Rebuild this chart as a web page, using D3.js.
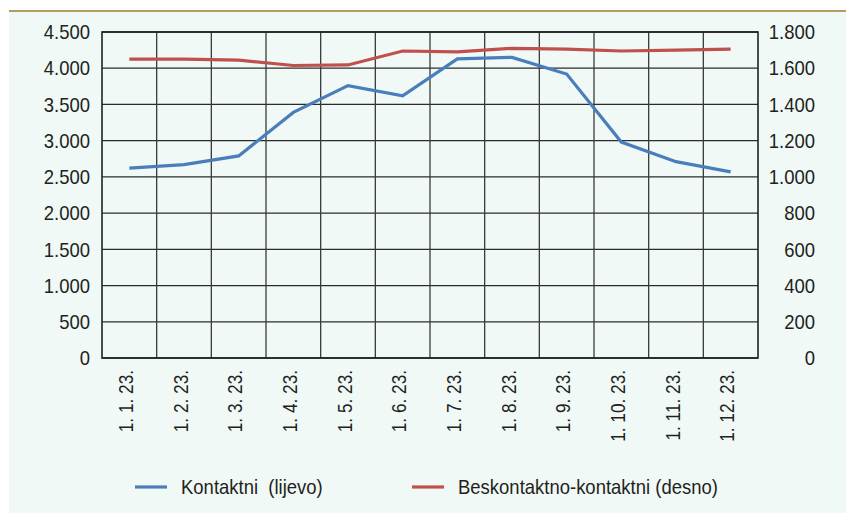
<!DOCTYPE html>
<html>
<head>
<meta charset="utf-8">
<script src="https://cdn.jsdelivr.net/npm/d3@7"></script>
<style>
  body { margin: 0; background: #fff; }
  svg { display: block; }
  text { font-family: "Liberation Sans Narrow", "Liberation Sans", Arial, sans-serif; fill: #231f20; }
</style>
</head>
<body>
<script>
// data
var months = ["1. 1. 23.", "1. 2. 23.", "1. 3. 23.", "1. 4. 23.", "1. 5. 23.", "1. 6. 23.",
              "1. 7. 23.", "1. 8. 23.", "1. 9. 23.", "1. 10. 23.", "1. 11. 23.", "1. 12. 23."];
var kontaktni = [2620, 2670, 2790, 3390, 3760, 3620, 4130, 4150, 3920, 2980, 2710, 2570];
var beskontaktno = [1650, 1650, 1645, 1615, 1618, 1695, 1690, 1710, 1705, 1695, 1700, 1705];
var leftTicks = [0, 500, 1000, 1500, 2000, 2500, 3000, 3500, 4000, 4500];
var rightTicks = [0, 200, 400, 600, 800, 1000, 1200, 1400, 1600, 1800];

var width = 846, height = 513;
var margin = {left: 102, right: 88, top: 32, bottom: 155};

var svg = d3.select("body").append("svg")
    .attr("width", width)
    .attr("height", height);

// background + top rule
svg.append("rect")
    .attr("x", 9).attr("y", 12)
    .attr("width", width - 9).attr("height", height - 12)
    .attr("fill", "#f0f9f6");
svg.append("line")
    .attr("x1", 9).attr("x2", width)
    .attr("y1", 11).attr("y2", 11)
    .attr("stroke", "#b89b63").attr("stroke-width", 2);

var x = d3.scaleBand()
    .domain(months)
    .range([margin.left, width - margin.right]);

var yL = d3.scaleLinear().domain([0, 4500]).range([height - margin.bottom, margin.top]);
var yR = d3.scaleLinear().domain([0, 1800]).range([height - margin.bottom, margin.top]);

var fmt = function(d) { return d3.format(",")(d).replace(/,/g, "."); };

// grid
svg.append("g")
  .selectAll("line")
  .data(leftTicks)
  .enter().append("line")
    .attr("x1", margin.left).attr("x2", width - margin.right)
    .attr("y1", function(d) { return yL(d); })
    .attr("y2", function(d) { return yL(d); })
    .attr("stroke", "#2b2b2b").attr("stroke-width", 1.3);

svg.append("g")
  .selectAll("line")
  .data(months.slice(1))
  .enter().append("line")
    .attr("x1", function(d) { return x(d); })
    .attr("x2", function(d) { return x(d); })
    .attr("y1", margin.top).attr("y2", height - margin.bottom)
    .attr("stroke", "#3a3a3a").attr("stroke-width", 1.3);

svg.append("rect")
    .attr("x", margin.left).attr("y", margin.top)
    .attr("width", width - margin.left - margin.right)
    .attr("height", height - margin.top - margin.bottom)
    .attr("fill", "none").attr("stroke", "#222").attr("stroke-width", 1.6);

// axes
var axL = svg.append("g")
    .attr("transform", "translate(" + margin.left + ",0)")
    .call(d3.axisLeft(yL).tickValues(leftTicks).tickFormat(fmt).tickSize(0).tickPadding(12));
var axR = svg.append("g")
    .attr("transform", "translate(" + (width - margin.right) + ",0)")
    .call(d3.axisRight(yR).tickValues(rightTicks).tickFormat(fmt).tickSize(0).tickPadding(57));
axR.selectAll("text").attr("text-anchor", "end");
var axB = svg.append("g")
    .attr("transform", "translate(0," + (height - margin.bottom) + ")")
    .call(d3.axisBottom(x).tickSize(0).tickPadding(0));
axB.selectAll("text")
    .attr("transform", "rotate(-90)")
    .attr("text-anchor", "end")
    .attr("x", -12).attr("y", 0).attr("dy", "3.5px");

[axL, axR, axB].forEach(function(a) {
  a.select(".domain").remove();
  a.selectAll("text").style("font-size", "21px").attr("fill", "#231f20");
});

// lines
var line = function(scale) {
  return d3.line()
    .x(function(d, i) { return x(months[i]) + x.bandwidth() / 2; })
    .y(function(d) { return scale(d); });
};

svg.append("path")
    .datum(beskontaktno)
    .attr("d", line(yR))
    .attr("fill", "none").attr("stroke", "#c0504d").attr("stroke-width", 3.2);

svg.append("path")
    .datum(kontaktni)
    .attr("d", line(yL))
    .attr("fill", "none").attr("stroke", "#4a7ebb").attr("stroke-width", 3.2);

// legend
var legend = [
  {label: "Kontaktni  (lijevo)", color: "#4a7ebb", x: 135},
  {label: "Beskontaktno-kontaktni (desno)", color: "#c0504d", x: 412}
];
var lg = svg.selectAll(".leg")
    .data(legend)
  .enter().append("g")
    .attr("transform", function(d) { return "translate(" + d.x + ",487)"; });
lg.append("line")
    .attr("x1", 0).attr("x2", 32)
    .attr("stroke", function(d) { return d.color; })
    .attr("stroke-width", 3.2);
var legText = lg.append("text")
    .attr("x", 46).attr("dy", "0.35em")
    .style("font-size", "21px")
    .style("white-space", "pre")
    .text(function(d) { return d.label; });

// the original uses a condensed face: squeeze the text a bit
function condense(sel, k) {
  sel.each(function() {
    var w = this.getComputedTextLength();
    d3.select(this).attr("textLength", w * k).attr("lengthAdjust", "spacingAndGlyphs");
  });
}
condense(axL.selectAll("text"), 0.88);
condense(axR.selectAll("text"), 0.88);
condense(axB.selectAll("text"), 0.82);
condense(legText, 0.88);
</script>
</body>
</html>
